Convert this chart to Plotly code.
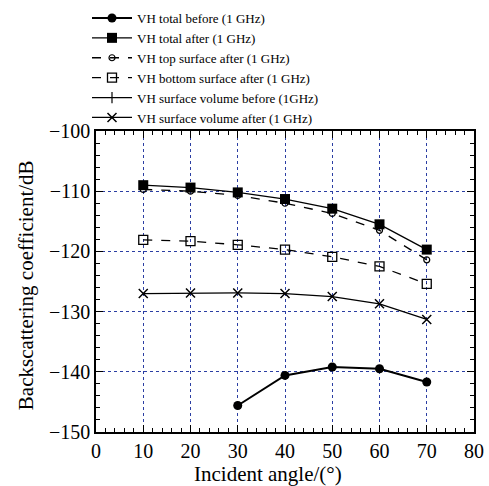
import plotly.graph_objects as go

# Incident angles (degrees)
angles = [10, 20, 30, 40, 50, 60, 70]
angles_before = [30, 40, 50, 60, 70]

# VH backscattering coefficients at 1 GHz (dB)
vh_total_before = [-145.6, -140.6, -139.2, -139.5, -141.7]
vh_total_after = [-109.0, -109.4, -110.2, -111.3, -112.9, -115.5, -119.7]
vh_top_after = [-109.7, -110.0, -110.7, -112.0, -113.7, -116.5, -121.4]
vh_bottom_after = [-118.1, -118.3, -118.9, -119.7, -120.9, -122.5, -125.4]
vh_vol_before = []
vh_vol_after = [-127.0, -126.9, -126.9, -127.0, -127.5, -128.7, -131.3]

names = [
    "VH total before (1 GHz)",
    "VH total after (1 GHz)",
    "VH top surface after (1 GHz)",
    "VH bottom surface after (1 GHz)",
    "VH surface volume before (1GHz)",
    "VH surface volume after (1 GHz)",
]
x_title = "Incident angle/(°)"
y_title = "Backscattering coefficient/dB"

FONT = "Liberation Serif, Times New Roman, serif"
GRID = "#2b3ea3"

fig = go.Figure()
fig.add_trace(go.Scatter(
    x=angles_before, y=vh_total_before, name=names[0], mode="lines+markers",
    line=dict(color="black", width=2),
    marker=dict(symbol="circle", size=9, color="black")))
fig.add_trace(go.Scatter(
    x=angles, y=vh_total_after, name=names[1], mode="lines+markers",
    line=dict(color="black", width=1.3),
    marker=dict(symbol="square", size=10, color="black")))
fig.add_trace(go.Scatter(
    x=angles, y=vh_top_after, name=names[2], mode="lines+markers",
    line=dict(color="black", width=1.3, dash="dash"),
    marker=dict(symbol="circle-open", size=6, color="black", line=dict(width=1.2))))
fig.add_trace(go.Scatter(
    x=angles, y=vh_bottom_after, name=names[3], mode="lines+markers",
    line=dict(color="black", width=1.3, dash="dash"),
    marker=dict(symbol="square-open", size=9, color="black", line=dict(width=1.3))))
fig.add_trace(go.Scatter(
    x=angles if vh_vol_before else [None], y=vh_vol_before if vh_vol_before else [None],
    name=names[4], mode="lines+markers",
    line=dict(color="black", width=1.3),
    marker=dict(symbol="line-ns-open", size=8, color="black", line=dict(width=1.2))))
fig.add_trace(go.Scatter(
    x=angles, y=vh_vol_after, name=names[5], mode="lines+markers",
    line=dict(color="black", width=1.3),
    marker=dict(symbol="x-thin-open", size=9, color="black", line=dict(width=1.5))))

axis_common = dict(
    showline=True, linecolor="black", linewidth=1.5, mirror="allticks",
    ticks="inside", ticklen=7, tickwidth=1.3, tickcolor="black",
    showgrid=True, gridcolor=GRID, gridwidth=1.3, griddash="dot",
    zeroline=False, automargin=False,
    tickfont=dict(family=FONT, size=20, color="black"),
)

fig.update_xaxes(
    range=[0, 80], dtick=10, tick0=0,
    minor=dict(dtick=2, ticks="inside", ticklen=4, tickwidth=1.2, tickcolor="black", showgrid=False),
    **axis_common)
fig.update_yaxes(
    range=[-150, -100], dtick=10, tick0=-150,
    minor=dict(dtick=2, ticks="inside", ticklen=4, tickwidth=1.2, tickcolor="black", showgrid=False),
    tickformat="d",
    **axis_common)

# Axis titles
fig.add_annotation(
    text=x_title, xref="paper", yref="paper", x=0.455, y=-0.14,
    xanchor="center", yanchor="middle", showarrow=False,
    font=dict(family=FONT, size=21, color="black"))
fig.add_annotation(
    text=y_title, xref="paper", yref="paper", x=-0.185, y=0.488,
    xanchor="center", yanchor="middle", showarrow=False, textangle=-90,
    font=dict(family=FONT, size=21, color="black"))

fig.update_layout(
    width=489, height=486,
    margin=dict(l=96, r=15, t=131, b=54, autoexpand=False),
    paper_bgcolor="white", plot_bgcolor="white",
    font=dict(family=FONT, color="black"),
    showlegend=True,
    legend=dict(
        xref="container", yref="container", x=87/489, y=1 - 3/486,
        xanchor="left", yanchor="top",
        font=dict(family=FONT, size=13, color="black"),
        bgcolor="rgba(0,0,0,0)", tracegroupgap=0, itemwidth=40,
    ),
)

fig.write_html("out.html")
